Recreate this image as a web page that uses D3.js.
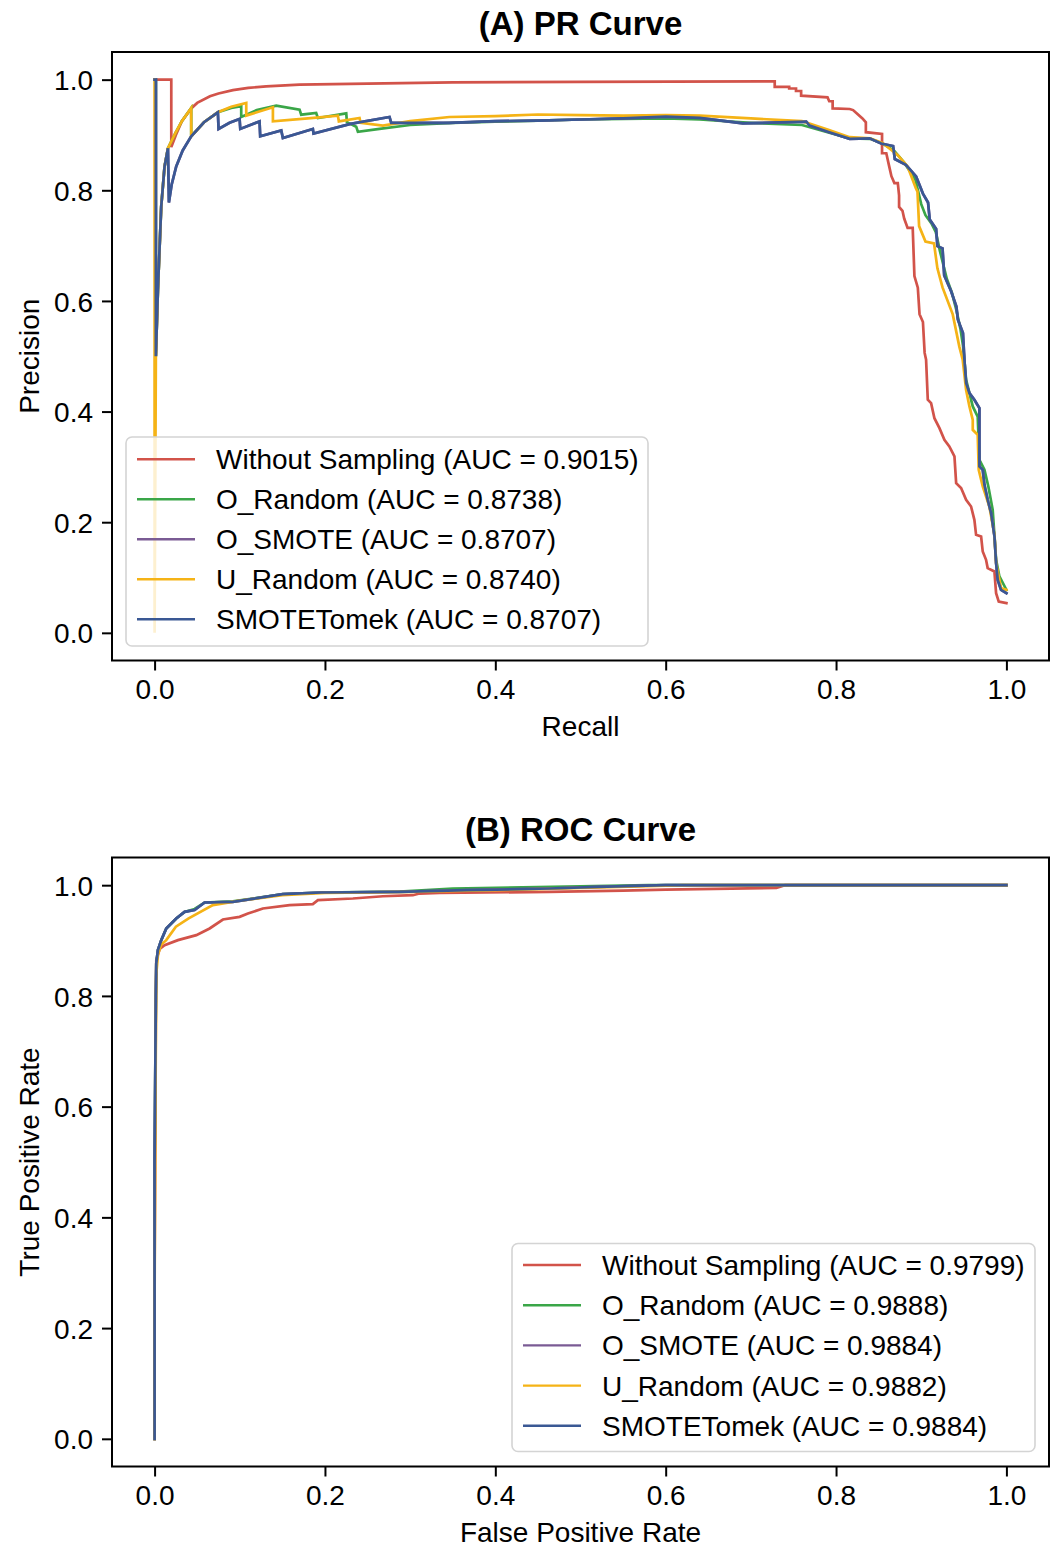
<!DOCTYPE html>
<html>
<head>
<meta charset="utf-8">
<script src="https://cdn.jsdelivr.net/npm/d3@7"></script>
<style>
  html, body { margin: 0; padding: 0; background: #fff; }
  svg { display: block; }
  text { font-family: "Liberation Sans", Arial, Helvetica, sans-serif; fill: #000; }
</style>
</head>
<body>
<svg id="chart" width="1052" height="1546"></svg>
<script>
// ---------------- DATA ----------------
const seriesNames = ["Without Sampling", "O_Random", "O_SMOTE", "U_Random", "SMOTETomek"];
const seriesColors = ["#d2534a", "#3aa648", "#7a5b94", "#f5b316", "#3a5894"];
const prAUC  = ["0.9015", "0.8738", "0.8707", "0.8740", "0.8707"];
const rocAUC = ["0.9799", "0.9888", "0.9884", "0.9882", "0.9884"];
const axisTicks = [0, 0.2, 0.4, 0.6, 0.8, 1.0];

// PR curves: [recall, precision]
const prWithout = [[0,1],[0.0196,1],[0.0196,0.878],[0.025,0.90],[0.032,0.925],[0.043,0.948],[0.05,0.958],[0.065,0.970],[0.075,0.975],[0.092,0.981],[0.11,0.985],[0.131,0.988],[0.17,0.991],[0.25,0.993],[0.35,0.995],[0.5,0.996],[0.728,0.997],
  [0.728,0.987],[0.745,0.987],[0.745,0.984],[0.753,0.984],[0.753,0.9795],[0.759,0.9795],[0.759,0.971],[0.790,0.968],[0.792,0.961],[0.796,0.961],[0.796,0.948],[0.816,0.947],[0.820,0.945],[0.8235,0.940],[0.831,0.930],[0.835,0.923],[0.835,0.905],[0.854,0.902],[0.854,0.867],[0.859,0.867],[0.862,0.846],[0.865,0.8255],[0.8685,0.813],[0.8725,0.813],[0.874,0.791],[0.874,0.770],[0.878,0.763],[0.880,0.749],[0.884,0.732],[0.890,0.732],[0.892,0.645],[0.896,0.624],[0.898,0.576],[0.902,0.562],[0.904,0.506],
  [0.9057,0.4937],[0.9077,0.4213],[0.9116,0.4153],[0.9155,0.388],[0.9214,0.370],[0.9272,0.349],[0.933,0.337],[0.939,0.319],[0.941,0.2707],[0.9468,0.2617],[0.9527,0.2405],[0.9585,0.2284],[0.9624,0.2043],[0.9644,0.1772],[0.9703,0.1741],[0.9722,0.147],[0.9761,0.132],[0.978,0.117],[0.9859,0.111],[0.9879,0.0718],[0.991,0.0566],[1.0,0.0537]];

const prORandom = [[0,1],[0.0015,1],[0.0015,0.5],[0.0039,0.62],[0.0078,0.771],[0.0117,0.843],[0.0157,0.876],[0.025,0.905],[0.032,0.925],[0.043,0.9488],[0.043,0.8975],[0.058,0.923],[0.0743,0.941],[0.09,0.949],[0.1017,0.952],[0.1017,0.9325],[0.12,0.945],[0.1428,0.953],[0.1702,0.9458],[0.1721,0.9367],[0.1897,0.9397],[0.1917,0.9307],[0.225,0.939],[0.2258,0.9232],[0.2367,0.915],[0.2387,0.9056],[0.2641,0.911],[0.30,0.918],[0.35,0.922],[0.40,0.924],[0.45,0.926],[0.50,0.928],[0.55,0.929],[0.60,0.93],[0.64,0.928],
  [0.70,0.922],[0.76,0.918],[0.79,0.905],[0.816,0.894],[0.84,0.893],[0.855,0.884],[0.868,0.872],[0.88,0.85],[0.893,0.82],[0.900,0.775],[0.905,0.755],[0.912,0.74],[0.917,0.725],[0.922,0.69],[0.926,0.665],[0.93,0.64],[0.936,0.615],[0.941,0.585],[0.946,0.55],[0.949,0.52],[0.9527,0.4575],[0.9605,0.4093],[0.9663,0.391],[0.9683,0.3128],[0.9742,0.2948],[0.9788,0.2646],[0.9839,0.2224],[0.9879,0.132],[0.9918,0.102],[1.0,0.0778]];

const prBlueFront = [[0,1],[0.0015,1],[0.0015,0.5],[0.0039,0.62],[0.0078,0.771],[0.0117,0.843],[0.0157,0.876],[0.0168,0.778],[0.02,0.81],[0.0254,0.843],[0.033,0.872],[0.043,0.8975],[0.058,0.923],[0.0743,0.941],[0.0751,0.911],[0.088,0.922],[0.0998,0.929],[0.1006,0.911],[0.1232,0.9246],[0.124,0.8975],[0.1487,0.9083],[0.1506,0.8945],[0.1858,0.911],[0.1866,0.9024],[0.23,0.92],[0.2758,0.9325],[0.2778,0.9217],[0.346,0.922],[0.40,0.925],[0.45,0.926],[0.50,0.928],[0.55,0.93],[0.60,0.933],[0.64,0.931],
  [0.6905,0.921],[0.765,0.924],[0.769,0.917],[0.792,0.905],[0.816,0.893],[0.8395,0.894],[0.853,0.8845],[0.867,0.880],[0.869,0.8565],[0.882,0.846],[0.894,0.825],[0.902,0.794],[0.908,0.778],[0.910,0.747],[0.9175,0.730],[0.919,0.699],[0.925,0.695],[0.927,0.646],[0.935,0.618],[0.9413,0.590],[0.943,0.5665],[0.949,0.542],[0.9507,0.4937],[0.9527,0.4515],[0.9566,0.4334],[0.9624,0.4213],[0.9683,0.4063],[0.9683,0.3007],[0.9722,0.2948],[0.9742,0.2676],[0.978,0.2405],[0.982,0.2165],[0.986,0.1741],[0.9879,0.126],[0.9898,0.0958],[0.9937,0.0778],[1.0,0.0718]];
const prOSmote = prBlueFront;
const prSmoteTomek = prBlueFront;

const prURandom = [[0,1],[0,0],[0.0015,0.5],[0.0039,0.62],[0.0078,0.771],[0.0117,0.843],[0.0157,0.876],[0.025,0.905],[0.032,0.925],[0.043,0.9488],[0.043,0.8975],[0.058,0.923],[0.0743,0.941],[0.09,0.951],[0.1076,0.958],[0.1076,0.935],[0.1389,0.950],[0.1389,0.9246],[0.18,0.93],[0.2152,0.935],[0.2163,0.9246],[0.2406,0.9307],[0.2418,0.922],[0.268,0.9168],[0.30,0.925],[0.346,0.9325],[0.40,0.934],[0.45,0.937],[0.50,0.936],[0.55,0.935],[0.60,0.936],[0.64,0.935],
  [0.70,0.93],[0.76,0.925],[0.79,0.91],[0.816,0.896],[0.84,0.894],[0.855,0.885],[0.8725,0.8636],[0.884,0.843],[0.8937,0.8037],[0.8956,0.7977],[0.8975,0.7353],[0.905,0.7075],[0.915,0.704],[0.919,0.6589],[0.925,0.6244],[0.937,0.5757],[0.9448,0.517],[0.9487,0.4937],[0.9527,0.439],[0.9566,0.4093],[0.9605,0.385],[0.9605,0.367],[0.9663,0.358],[0.9675,0.2948],[0.9722,0.2646],[0.98,0.2284],[0.986,0.1772],[0.9879,0.126],[0.9937,0.081],[1.0,0.0778]];

// ROC curves: [fpr, tpr]
const rocWithout = [[0,0],[0,0.3],[0.001,0.6],[0.0015,0.8],[0.002,0.8646],[0.006,0.885],[0.0117,0.8917],[0.0274,0.9007],[0.049,0.9097],[0.0646,0.9218],[0.0802,0.938],[0.0998,0.9428],[0.1096,0.9488],[0.1271,0.9579],[0.1585,0.9639],[0.1858,0.9657],[0.1917,0.9729],[0.2328,0.9759],[0.268,0.980],[0.3032,0.9819],[0.311,0.9849],[0.3345,0.986],[0.4636,0.9879],[0.55,0.99],[0.6,0.992],[0.73,0.995],[0.74,1.0],[1.0,1.0]];
const rocORandom = [[0,0],[0,0.5],[0.001,0.7],[0.0015,0.8],[0.002,0.859],[0.0039,0.8827],[0.0078,0.9007],[0.0137,0.9218],[0.0254,0.9398],[0.0352,0.9518],[0.047,0.957],[0.0587,0.9687],[0.0919,0.9708],[0.1506,0.9838],[0.1956,0.9868],[0.2876,0.9885],[0.35,0.994],[0.5,0.998],[0.58,1.0],[1.0,1.0]];
const rocSmote = [[0,0],[0,0.5],[0.001,0.7],[0.0015,0.8],[0.002,0.859],[0.0039,0.8827],[0.0078,0.9007],[0.0137,0.9218],[0.0254,0.9398],[0.0352,0.9518],[0.047,0.955],[0.0587,0.9687],[0.0919,0.9698],[0.1506,0.9838],[0.1956,0.9868],[0.2876,0.9879],[0.366,0.991],[0.4636,0.994],[0.52,0.997],[0.6,1.0],[1.0,1.0]];
const rocURandom = [[0,0],[0,0.25],[0.001,0.6],[0.002,0.84],[0.004,0.875],[0.0078,0.893],[0.0137,0.9007],[0.025,0.925],[0.04,0.94],[0.0684,0.9639],[0.1,0.972],[0.15,0.982],[0.2,0.986],[0.3,0.988],[0.4,0.991],[0.5,0.995],[0.6,0.999],[0.62,1.0],[1.0,1.0]];
const rocSmoteTomek = rocSmote;

const prSeries  = [prWithout, prORandom, prOSmote, prURandom, prSmoteTomek];
const rocSeries = [rocWithout, rocORandom, rocSmote, rocURandom, rocSmoteTomek];

// ---------------- DRAW ----------------
const svg = d3.select("#chart");
svg.append("rect").attr("width", 1052).attr("height", 1546).attr("fill", "#fff");

function panel(cfg) {
  const x = d3.scaleLinear().domain([-0.05, 1.05]).range([cfg.left, cfg.right]);
  const y = d3.scaleLinear().domain([-0.05, 1.05]).range([cfg.bottom, cfg.top]);
  const g = svg.append("g");

  // curves
  const line = d3.line().x(d => x(d[0])).y(d => y(d[1])).curve(d3.curveLinear);
  cfg.series.forEach((s, i) => {
    g.append("path").datum(s)
      .attr("d", line)
      .attr("fill", "none")
      .attr("stroke", seriesColors[i])
      .attr("stroke-width", 2.7)
      .attr("stroke-linejoin", "miter")
      .attr("stroke-linecap", "square");
  });

  // axes
  const xa = g.append("g").attr("transform", `translate(0,${cfg.bottom})`)
    .call(d3.axisBottom(x).tickValues(axisTicks).tickFormat(d3.format(".1f")).tickSize(10).tickPadding(9));
  const ya = g.append("g").attr("transform", `translate(${cfg.left},0)`)
    .call(d3.axisLeft(y).tickValues(axisTicks).tickFormat(d3.format(".1f")).tickSize(10).tickPadding(9));
  [xa, ya].forEach(a => {
    a.select(".domain").remove();
    a.selectAll(".tick line").attr("stroke", "#000").attr("stroke-width", 2);
    a.selectAll(".tick text").attr("font-size", 28).attr("fill", "#000")
      .style("font-family", '"Liberation Sans", Arial, sans-serif');
  });
  ya.selectAll(".tick text").attr("dy", "0.36em");

  // frame
  g.append("rect").attr("x", cfg.left).attr("y", cfg.top)
    .attr("width", cfg.right - cfg.left).attr("height", cfg.bottom - cfg.top)
    .attr("fill", "none").attr("stroke", "#000").attr("stroke-width", 2);

  // title & labels
  const cx = (cfg.left + cfg.right) / 2;
  g.append("text").attr("x", cx).attr("y", cfg.top - 17).attr("text-anchor", "middle")
    .attr("font-size", 33).attr("font-weight", "bold").text(cfg.title);
  g.append("text").attr("x", cx).attr("y", cfg.bottom + 75).attr("text-anchor", "middle")
    .attr("font-size", 28).text(cfg.xlabel);
  g.append("text").attr("transform", `translate(39,${(cfg.top + cfg.bottom) / 2}) rotate(-90)`)
    .attr("text-anchor", "middle").attr("font-size", 28).text(cfg.ylabel);

  // legend
  const L = cfg.legend;
  const lg = g.append("g");
  lg.append("rect").attr("x", L.x).attr("y", L.y).attr("width", L.w).attr("height", L.h)
    .attr("rx", 6).attr("ry", 6)
    .attr("fill", "#fff").attr("fill-opacity", 0.8)
    .attr("stroke", "#d4d4d4").attr("stroke-width", 1.6);
  seriesNames.forEach((n, i) => {
    const yy = L.row0 + i * L.step;
    lg.append("line").attr("x1", L.x + 11).attr("x2", L.x + 69).attr("y1", yy).attr("y2", yy)
      .attr("stroke", seriesColors[i]).attr("stroke-width", 2.4);
    lg.append("text").attr("x", L.x + 90).attr("y", yy).attr("dy", "0.36em")
      .attr("font-size", 28).text(`${n} (AUC = ${cfg.auc[i]})`);
  });
}

panel({
  left: 112, right: 1049, top: 52, bottom: 660.5,
  series: prSeries, auc: prAUC,
  title: "(A) PR Curve", xlabel: "Recall", ylabel: "Precision",
  legend: { x: 126, y: 437, w: 522, h: 209, row0: 459.3, step: 40 }
});
panel({
  left: 112, right: 1049, top: 857.5, bottom: 1466.5,
  series: rocSeries, auc: rocAUC,
  title: "(B) ROC Curve", xlabel: "False Positive Rate", ylabel: "True Positive Rate",
  legend: { x: 512, y: 1243.5, w: 523, h: 208, row0: 1265, step: 40.2 }
});
</script>
</body>
</html>
